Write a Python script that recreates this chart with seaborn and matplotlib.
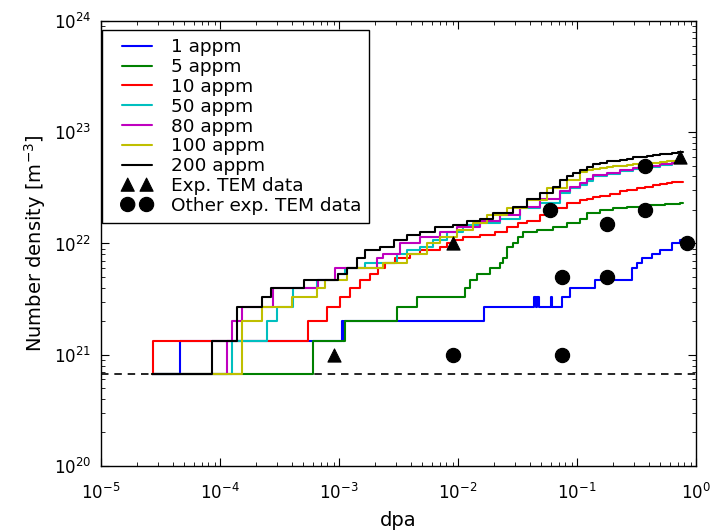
import matplotlib
matplotlib.use("Agg")
import matplotlib.pyplot as plt
from matplotlib.legend_handler import HandlerLine2D, HandlerPathCollection
from matplotlib.collections import PathCollection
from matplotlib.lines import Line2D
import pandas as pd
import seaborn as sns

# Number density of a single cluster in the simulation cell [m^-3]
unit_density = 6.67e20

# Cluster counts versus dose (dpa) for each helium content
dpa_1 = [2.68e-5, 4.61e-5, 1.06e-3, 1.08e-3, 1.10e-3, 1.654e-2, 4.35e-2, 4.52e-2,
         4.61e-2, 4.79e-2, 6.05e-2, 6.16e-2, 7.48e-2, 8.73e-2, 0.1417, 0.290,
         0.319, 0.352, 0.427, 0.498, 0.628, 0.734, 0.778]
n_1 = [1, 2, 3, 2, 3, 4, 5, 4, 5, 4, 5, 4, 5, 6, 7, 9, 10, 11, 12, 13, 15, 16, 16]

dpa_5 = [2.68e-5, 6.05e-4, 1.12e-3, 3.07e-3, 4.52e-3, 1.145e-2, 1.26e-2, 1.44e-2,
         1.86e-2, 2.25e-2, 2.39e-2, 2.58e-2, 2.90e-2, 3.19e-2, 3.52e-2, 4.61e-2,
         6.28e-2, 8.24e-2, 0.106, 0.121, 0.156, 0.2007, 0.263, 0.387, 0.549,
         0.734, 0.778]
n_5 = [1, 2, 3, 4, 5, 6, 7, 8, 9, 10, 11, 14, 15, 17, 19, 20, 21, 23, 25, 28, 30,
       31, 32, 33, 34, 35, 35]

dpa_10 = [2.68e-5, 2.735e-5, 5.49e-4, 7.93e-4, 1.02e-3, 1.24e-3, 1.50e-3, 1.82e-3,
          2.13e-3, 2.44e-3, 2.96e-3, 3.95e-3, 4.79e-3, 7.06e-3, 8.08e-3, 9.44e-3,
          1.10e-2, 1.53e-2, 2.05e-2, 2.58e-2, 3.19e-2, 3.80e-2, 4.89e-2, 6.28e-2,
          8.24e-2, 0.106, 0.1213, 0.136, 0.1561, 0.189, 0.2298, 0.263, 0.3174,
          0.373, 0.435, 0.498, 0.571, 0.628, 0.734, 0.778]
n_10 = [1, 2, 3, 4, 5, 6, 7, 8, 9, 10, 11, 12, 13, 14, 15, 16, 17, 18, 19, 21, 23,
        24, 27, 31, 35, 37, 38, 39, 40, 42, 44, 45, 47, 48, 50, 51, 52, 53, 54, 54]

dpa_50 = [2.68e-5, 1.261e-4, 2.483e-4, 3.013e-4, 4.105e-4, 6.53e-4, 9.81e-4,
          1.123e-3, 1.654e-3, 3.072e-3, 3.727e-3, 4.793e-3, 6.163e-3, 8.084e-3,
          1.101e-2, 1.530e-2, 2.254e-2, 3.319e-2, 4.887e-2, 7.197e-2, 8.73e-2,
          0.1059, 0.1213, 0.1363, 0.1787, 0.2298, 0.2955, 0.3874, 0.498, 0.628,
          0.734, 0.778]
n_50 = [1, 2, 3, 4, 6, 7, 8, 9, 10, 12, 13, 14, 16, 19, 22, 23, 25, 31, 35, 43, 47,
        50, 55, 60, 63, 67, 70, 73, 76, 79, 80, 80]

dpa_80 = [2.68e-5, 1.145e-4, 1.261e-4, 1.530e-4, 2.789e-4, 6.66e-4, 9.256e-4,
          2.086e-3, 2.343e-3, 3.255e-3, 4.793e-3, 7.058e-3, 9.808e-3, 1.530e-2,
          2.254e-2, 3.319e-2, 4.887e-2, 7.197e-2, 8.73e-2, 0.1059, 0.1213, 0.1363,
          0.1787, 0.2298, 0.2955, 0.3874, 0.498, 0.628, 0.734, 0.778]
n_80 = [1, 2, 3, 4, 6, 7, 9, 11, 12, 15, 17, 19, 21, 24, 27, 32, 38, 44, 48, 52, 57,
        62, 65, 69, 71, 74, 78, 79, 80, 80]

dpa_100 = [2.68e-5, 1.530e-4, 2.254e-4, 4.027e-4, 6.532e-4, 7.628e-4, 1.167e-3,
           2.343e-3, 3.727e-3, 5.489e-3, 7.058e-3, 9.808e-3, 1.337e-2, 1.752e-2,
           2.581e-2, 3.800e-2, 5.596e-2, 8.241e-2, 0.1059, 0.1213, 0.1363, 0.1561,
           0.1787, 0.2007, 0.2298, 0.2631, 0.2955, 0.3383, 0.3874, 0.498, 0.5706,
           0.734, 0.778]
n_100 = [1, 3, 4, 5, 6, 7, 9, 10, 12, 15, 17, 20, 23, 27, 31, 37, 47, 56, 66, 68,
         70, 71, 73, 74, 75, 76, 77, 79, 80, 81, 82, 83, 83]

dpa_200 = [2.68e-5, 8.566e-5, 1.389e-4, 2.254e-4, 2.683e-4, 5.079e-4, 9.808e-4,
           1.167e-3, 1.417e-3, 1.654e-3, 2.211e-3, 2.900e-3, 3.727e-3, 4.793e-3,
           6.407e-3, 9.078e-3, 1.190e-2, 1.530e-2, 1.968e-2, 2.900e-2, 3.800e-2,
           4.887e-2, 6.284e-2, 7.197e-2, 8.241e-2, 9.26e-2, 0.1059, 0.1213,
           0.1363, 0.1561, 0.1787, 0.2007, 0.2298, 0.2631, 0.2955, 0.3383, 0.3874,
           0.4352, 0.4983, 0.5706, 0.6284, 0.706, 0.734, 0.778]
n_200 = [1, 2, 4, 5, 6, 7, 8, 9, 11, 13, 14, 16, 18, 19, 21, 22, 24, 25, 28, 32, 38,
         43, 48, 56, 60, 65, 69, 73, 77, 80, 82, 83, 85, 87, 89, 90, 92, 93, 95, 96,
         97, 99, 100, 100]

series_labels = ["1 appm", "5 appm", "10 appm", "50 appm", "80 appm", "100 appm",
                 "200 appm"]
series_colors = ["#0000ff", "#008000", "#ff0000", "#00bfbf", "#bf00bf", "#bfbf00",
                 "#000000"]
series_dpa = [dpa_1, dpa_5, dpa_10, dpa_50, dpa_80, dpa_100, dpa_200]
series_counts = [n_1, n_5, n_10, n_50, n_80, n_100, n_200]

# Experimental TEM observations
tem_dpa = [9.0e-4, 9.1e-3, 0.73]
tem_density = [1.0e21, 1.0e22, 6.0e22]

other_tem_dpa = [9.1e-3, 0.075, 0.075, 0.18, 0.18, 0.059, 0.37, 0.37, 0.84]
other_tem_density = [1.0e21, 1.0e21, 5.0e21, 5.0e21, 1.5e22, 2.0e22, 2.0e22,
                     5.0e22, 1.0e22]

sns.set_style("ticks")
plt.rcParams.update({
    "font.family": ["DejaVu Sans"],
    "mathtext.fontset": "dejavusans",
    "text.color": "black",
    "axes.labelcolor": "black",
    "xtick.direction": "in",
    "ytick.direction": "in",
    "xtick.top": True,
    "ytick.right": True,
    "xtick.major.size": 6,
    "ytick.major.size": 6,
    "xtick.minor.size": 3,
    "ytick.minor.size": 3,
    "xtick.color": "black",
    "ytick.color": "black",
    "xtick.labelcolor": "black",
    "ytick.labelcolor": "black",
    "axes.edgecolor": "black",
    "axes.linewidth": 1.0,
})

fig = plt.figure(figsize=(7.13, 5.32), dpi=100)
ax = fig.add_axes([0.1417, 0.1241, 0.8345, 0.8365])
ax.set_xscale("log")
ax.set_yscale("log")

# one-cluster detection limit
ax.axhline(unit_density, color="black", linestyle="--", linewidth=1.2,
           dashes=(4.5, 3.5), zorder=1)

for label, color, dpa, counts in zip(series_labels, series_colors, series_dpa,
                                     series_counts):
    frame = pd.DataFrame({"dpa": dpa,
                          "density": [c * unit_density for c in counts]})
    sns.lineplot(data=frame, x="dpa", y="density", ax=ax, color=color,
                 linewidth=1.5, drawstyle="steps-post", estimator=None,
                 sort=False, label=label, zorder=2)

sns.scatterplot(x=tem_dpa, y=tem_density, ax=ax, marker="^", color="black",
                edgecolor="black", s=90, label="Exp. TEM data", zorder=4)
sns.scatterplot(x=other_tem_dpa, y=other_tem_density, ax=ax, marker="o",
                color="black", edgecolor="black", s=105,
                label="Other exp. TEM data", zorder=4)

ax.set_xlim(1e-5, 1)
ax.set_ylim(1e20, 1e24)
ax.set_xlabel("dpa", fontsize=14, labelpad=6, color="black")
ax.set_ylabel("Number density [m$^{-3}$]", fontsize=14, color="black")
ax.tick_params(axis="x", which="major", labelsize=12, pad=12, labelcolor="black")
ax.tick_params(axis="y", which="major", labelsize=12, pad=7, labelcolor="black")

handles, labels = ax.get_legend_handles_labels()
leg = ax.legend(handles, labels, loc="upper left", bbox_to_anchor=(0.002, 0.98),
                borderaxespad=0, fontsize=13.3, labelspacing=0.1,
                handlelength=2.25, handletextpad=1.0, borderpad=0.45,
                scatterpoints=2, scatteryoffsets=[0.5], fancybox=False,
                framealpha=1, edgecolor="black", labelcolor="black",
                handler_map={Line2D: HandlerLine2D(xpad=0.63),
                             PathCollection: HandlerPathCollection(xpad=0.63)})
leg.get_frame().set_linewidth(1.0)

fig.savefig("out.png", dpi=100)
